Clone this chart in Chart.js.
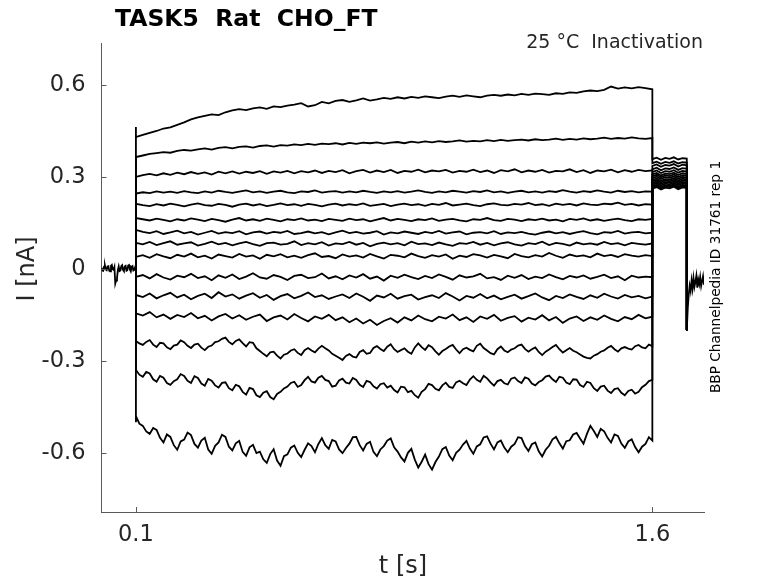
<!DOCTYPE html>
<html lang="en">
<head>
  <meta charset="UTF-8">
  <title>TASK5 Rat CHO_FT</title>
  <script src="https://cdn.jsdelivr.net/npm/chart.js"></script>
  <style>
    html, body { margin: 0; padding: 0; background: #fff; }
    .wrap { width: 778px; height: 583px; position: relative; }
  </style>
</head>
<body>
  <div class="wrap"><canvas id="traceChart"></canvas></div>

  <script>
    // currents in pA
    const holdCurrent = [4, -5, -6, 7, 11, -2, -4, 8, 9, -6, -8, 10, 13, -1, -3, 6, -48, -38, -30, -4, 8, -7, -5, 9, 12, -3, -7, 8, 10, -6, -4, 11, 13, -2, -8, 7, 9, -5, -3, 5, 0];

    // peak of the capacitive jump at 0.1 s, one per sweep
    const onsetPeaks = [463, 365, 300, 246, 212, 166, 127, 85, 39, -26, -85, -145, -235, -330, -500];

    // 0.1 s .. 1.6 s
    const sweep1 = [430, 437, 444, 450, 458, 462, 470, 478, 488, 494, 499, 504, 502, 511, 517, 521, 518, 524, 527, 522, 530, 528, 533, 536, 541, 530, 534, 545, 540, 548, 551, 545, 550, 556, 549, 553, 558, 555, 560, 556, 561, 558, 563, 560, 557, 562, 565, 561, 566, 563, 560, 565, 568, 565, 569, 566, 571, 568, 572, 570, 568, 573, 571, 576, 574, 579, 582, 580, 584, 595, 588, 592, 589, 593, 590, 586];
    const sweep2 = [365, 370, 375, 378, 381, 379, 385, 388, 386, 390, 393, 389, 395, 397, 393, 398, 400, 396, 401, 403, 399, 404, 402, 406, 404, 408, 405, 409, 407, 410, 406, 411, 408, 412, 410, 413, 409, 412, 414, 410, 415, 412, 416, 413, 417, 414, 416, 419, 415, 418, 416, 420, 417, 421, 418, 420, 422, 419, 423, 420, 422, 425, 421, 424, 422, 426, 423, 425, 428, 424, 427, 425, 429, 426, 424, 427];
    const sweep3 = [300, 306, 310, 305, 312, 307, 314, 309, 316, 310, 315, 308, 317, 312, 318, 311, 317, 313, 319, 310, 318, 314, 320, 312, 319, 315, 321, 313, 320, 316, 322, 312, 319, 323, 314, 321, 316, 323, 313, 320, 317, 324, 315, 321, 318, 323, 314, 320, 317, 324, 316, 321, 313, 322, 318, 325, 315, 321, 317, 323, 314, 320, 318, 325, 316, 322, 313, 321, 318, 324, 315, 322, 317, 323, 319, 321];
    const sweep4 = [246, 250, 247, 253, 249, 252, 248, 254, 250, 247, 253, 249, 255, 251, 248, 252, 256, 250, 253, 248, 252, 255, 250, 247, 253, 251, 256, 249, 252, 254, 249, 253, 250, 255, 251, 248, 253, 250, 254, 249, 252, 256, 251, 248, 253, 250, 255, 252, 249, 254, 251, 256, 250, 253, 248, 252, 255, 250, 253, 249, 254, 251, 257, 252, 249, 254, 251, 256, 252, 249, 255, 251, 254, 250, 253, 252];
    const sweep5 = [212, 208, 205, 211, 207, 213, 209, 204, 210, 214, 208, 206, 212, 209, 203, 210, 213, 207, 211, 205, 209, 214, 208, 211, 206, 212, 209, 204, 210, 213, 207, 211, 208, 214, 206, 209, 212, 205, 210, 213, 208, 211, 206, 212, 209, 215, 207, 210, 213, 208, 205, 211, 214, 209, 207, 212, 210, 215, 208, 211, 206, 213, 209, 212, 207, 214, 210, 208, 213, 211, 216, 209, 212, 207, 211, 210];
    const sweep6 = [166, 162, 158, 164, 160, 155, 162, 158, 165, 161, 156, 163, 159, 154, 161, 166, 158, 162, 157, 164, 160, 155, 162, 159, 165, 158, 161, 156, 163, 160, 157, 164, 159, 162, 155, 161, 166, 158, 163, 160, 156, 162, 159, 165, 157, 161, 163, 158, 155, 162, 160, 166, 159, 157, 163, 161, 156, 162, 159, 164, 158, 161, 155, 163, 160, 165, 158, 162, 157, 161, 164, 159, 156, 162, 160, 163];
    const sweep7 = [127, 121, 117, 123, 114, 119, 125, 116, 121, 112, 118, 124, 115, 120, 117, 123, 113, 119, 122, 115, 121, 118, 124, 114, 117, 122, 116, 120, 113, 119, 125, 117, 121, 115, 118, 123, 112, 119, 116, 122, 118, 114, 121, 117, 124, 115, 119, 122, 113, 118, 120, 116, 123, 114, 119, 117, 121, 115, 112, 118, 122, 116, 120, 114, 119, 123, 117, 113, 120, 118, 124, 115, 119, 121, 116, 118];
    const sweep8 = [85, 80, 88, 78, 84, 90, 79, 83, 87, 76, 82, 89, 80, 85, 77, 83, 88, 81, 75, 84, 86, 79, 82, 90, 78, 84, 80, 87, 76, 83, 81, 88, 79, 85, 74, 82, 86, 80, 84, 77, 89, 81, 83, 78, 86, 80, 75, 84, 82, 88, 79, 85, 77, 83, 87, 80, 76, 84, 81, 89, 78, 85, 82, 76, 86, 80, 83, 79, 88, 81, 84, 77, 85, 82, 79, 83];
    const sweep9 = [39, 45, 36, 48, 41, 35, 46, 40, 50, 38, 43, 34, 47, 42, 37, 49, 40, 44, 33, 46, 41, 48, 38, 43, 36, 45, 51, 39, 42, 35, 47, 40, 44, 37, 49, 41, 34, 46, 43, 38, 50, 42, 36, 45, 40, 47, 33, 43, 39, 48, 44, 37, 46, 41, 35, 49, 42, 38, 45, 40, 52, 43, 36, 47, 41, 44, 38, 50, 42, 46, 39, 48, 43, 40, 45, 42];
    const sweep10 = [-26, -20, -31, -17, -28, -35, -22, -27, -16, -30, -24, -37, -21, -29, -18, -33, -25, -14, -28, -32, -20, -26, -36, -23, -19, -30, -27, -15, -31, -24, -34, -21, -28, -17, -32, -25, -38, -22, -29, -19, -27, -33, -23, -30, -18, -26, -35, -21, -28, -24, -16, -31, -27, -36, -22, -29, -20, -33, -25, -30, -18, -27, -34, -23, -28, -21, -32, -26, -19, -30, -24, -37, -22, -28, -25, -27];
    const sweep11 = [-85, -92, -80, -96, -86, -78, -93, -84, -99, -88, -81, -95, -76, -90, -83, -97, -87, -79, -94, -85, -101, -89, -82, -96, -88, -77, -92, -86, -98, -90, -83, -95, -80, -91, -104, -87, -93, -81, -97, -89, -84, -100, -92, -86, -95, -79, -90, -103, -88, -94, -82, -96, -87, -99, -91, -84, -97, -89, -80, -93, -102, -88, -95, -83, -91, -98, -86, -94, -81, -90, -97, -85, -93, -88, -96, -90];
    const sweep12 = [-145, -152, -141, -158, -149, -163, -150, -157, -144, -161, -153, -168, -155, -147, -162, -151, -166, -156, -149, -170, -158, -152, -165, -147, -160, -171, -155, -163, -150, -167, -158, -174, -162, -178, -166, -183, -170, -161, -175, -158, -168, -152, -164, -171, -156, -162, -149, -167, -158, -173, -155, -163, -150, -169, -160, -154, -172, -159, -165, -151, -168, -157, -176, -162, -155, -170, -158, -166, -152, -163, -171, -157, -164, -150, -161, -156];
    const sweep13 = [-235, -243, -248, -238, -232, -247, -255, -241, -243, -256, -262, -250, -247, -233, -239, -251, -258, -247, -244, -257, -265, -254, -250, -239, -236, -228, -224, -238, -246, -235, -230, -242, -253, -239, -241, -259, -268, -277, -285, -272, -270, -283, -292, -280, -276, -266, -262, -274, -281, -265, -258, -266, -272, -260, -251, -259, -266, -277, -283, -290, -297, -284, -278, -286, -289, -271, -265, -277, -274, -258, -252, -261, -268, -254, -246, -262, -271, -265, -259, -270, -277, -256, -243, -255, -264, -249, -255, -269, -280, -268, -261, -253, -248, -263, -275, -262, -257, -264, -269, -251, -244, -258, -266, -275, -279, -262, -253, -266, -272, -263, -259, -250, -247, -261, -270, -262, -256, -271, -281, -270, -263, -255, -248, -262, -273, -265, -258, -267, -272, -279, -286, -290, -292, -283, -278, -270, -266, -257, -251, -262, -270, -259, -255, -260, -263, -252, -248, -256, -259, -247, -252];
    const sweep14 = [-330, -345, -352, -336, -341, -360, -368, -349, -355, -372, -378, -366, -360, -343, -349, -365, -372, -350, -356, -374, -381, -359, -365, -380, -387, -372, -370, -389, -396, -378, -383, -401, -410, -388, -392, -412, -418, -404, -399, -418, -425, -408, -401, -390, -384, -372, -368, -385, -379, -363, -352, -367, -371, -355, -349, -362, -366, -384, -381, -364, -358, -371, -374, -356, -362, -378, -385, -365, -369, -383, -390, -376, -373, -387, -381, -395, -403, -384, -386, -402, -398, -412, -420, -401, -392, -375, -379, -391, -396, -380, -371, -385, -388, -370, -365, -373, -379, -361, -350, -362, -368, -349, -357, -370, -381, -366, -362, -373, -377, -358, -354, -366, -372, -354, -358, -374, -380, -369, -363, -351, -348, -360, -369, -352, -355, -371, -376, -360, -361, -379, -385, -368, -372, -389, -398, -384, -381, -397, -405, -392, -389, -404, -412, -398, -394, -407, -401, -386, -378, -366, -362];
    const sweep15 = [-480, -505, -512, -530, -538, -519, -525, -551, -566, -540, -548, -575, -590, -563, -557, -534, -542, -571, -583, -560, -551, -589, -603, -577, -566, -541, -548, -580, -592, -569, -561, -597, -610, -582, -574, -601, -596, -621, -633, -604, -588, -625, -642, -611, -605, -583, -576, -600, -614, -590, -569, -578, -598, -571, -552, -575, -587, -558, -563, -589, -601, -584, -570, -549, -548, -575, -592, -571, -564, -597, -611, -589, -578, -560, -553, -582, -596, -615, -628, -600, -587, -622, -648, -629, -606, -637, -655, -630, -612, -588, -581, -609, -624, -600, -590, -573, -561, -586, -603, -579, -572, -550, -546, -570, -589, -566, -560, -583, -598, -580, -571, -549, -552, -578, -594, -572, -566, -595, -612, -590, -577, -556, -548, -569, -586, -562, -559, -540, -535, -553, -570, -538, -512, -529, -548, -522, -530, -551, -566, -540, -545, -570, -584, -563, -556, -581, -598, -580, -571, -549, -560];

    // 1.6 s .. 1.7 s
    const tail1 = [358, 363, 356, 362, 359, 364, 357, 361, 360];
    const tail2 = [345, 350, 343, 349, 346, 351, 344, 348, 347];
    const tail3 = [336, 341, 333, 339, 337, 342, 334, 340, 338];
    const tail4 = [325, 330, 322, 328, 326, 331, 323, 329, 327];
    const tail5 = [316, 321, 313, 319, 317, 322, 314, 320, 318];
    const tail6 = [308, 313, 305, 311, 309, 314, 306, 312, 310];
    const tail7 = [302, 307, 299, 305, 303, 308, 300, 306, 304];
    const tail8 = [296, 301, 293, 299, 297, 302, 294, 300, 298];
    const tail9 = [290, 295, 287, 293, 291, 296, 288, 294, 292];
    const tail10 = [285, 290, 282, 288, 286, 291, 283, 289, 287];
    const tail11 = [280, 285, 277, 283, 281, 286, 278, 284, 282];
    const tail12 = [275, 280, 272, 278, 276, 281, 273, 279, 277];
    const tail13 = [270, 275, 267, 273, 271, 276, 268, 274, 272];
    const tail14 = [266, 271, 263, 269, 267, 272, 264, 270, 268];
    const tail15 = [262, 267, 259, 265, 263, 268, 260, 266, 264];

    // 1.7 s .. 1.75 s
    const endCurrent = [-200, -130, -85, -55, -72, -38, -64, -30, -58, -42, -22, -61, -35, -50, -27, -56, -40, -24, -52];

    const yTickVals = [-0.6, -0.3, 0, 0.3, 0.6];
    const xTickVals = [0.1, 1.6];

    const sweeps = [sweep1, sweep2, sweep3, sweep4, sweep5, sweep6, sweep7, sweep8,
                    sweep9, sweep10, sweep11, sweep12, sweep13, sweep14, sweep15];
    const tails = [tail1, tail2, tail3, tail4, tail5, tail6, tail7, tail8,
                   tail9, tail10, tail11, tail12, tail13, tail14, tail15];

    function spread(values, t0, t1) {
      const n = values.length;
      return values.map((v, i) => ({ x: t0 + (t1 - t0) * i / (n - 1), y: v / 1000 }));
    }

    const lineStyle = { borderColor: '#000', borderWidth: 1.8, pointRadius: 0, fill: false, tension: 0 };

    const datasets = [{ ...lineStyle, data: spread(holdCurrent, 0, 0.1) }];
    sweeps.forEach((sw, k) => {
      datasets.push({
        ...lineStyle,
        data: [{ x: 0.1, y: 0 }, { x: 0.1, y: onsetPeaks[k] / 1000 }]
          .concat(spread(sw, 0.1, 1.6))
          .concat(spread(tails[k], 1.6, 1.7))
          .concat([{ x: 1.7, y: endCurrent[0] / 1000 }])
      });
    });
    datasets.push({ ...lineStyle, data: spread(endCurrent, 1.7, 1.75) });

    const axisGrey = '#5a5a5a';
    const textGrey = '#262626';

    const decor = {
      id: 'decor',
      afterDraw(chart) {
        const ctx = chart.ctx;
        const xs = chart.scales.x, ys = chart.scales.y;
        const area = chart.chartArea;
        ctx.save();
        // inward ticks
        ctx.strokeStyle = axisGrey;
        ctx.lineWidth = 1;
        ctx.beginPath();
        yTickVals.forEach(v => {
          const py = Math.round(ys.getPixelForValue(v)) + 0.5;
          ctx.moveTo(area.left, py);
          ctx.lineTo(area.left + 5, py);
        });
        xTickVals.forEach(v => {
          const px = Math.round(xs.getPixelForValue(v)) + 0.5;
          ctx.moveTo(px, area.bottom);
          ctx.lineTo(px, area.bottom - 5);
        });
        ctx.stroke();

        ctx.fillStyle = '#000';
        ctx.font = 'bold 23.5px "DejaVu Sans"';
        ctx.textAlign = 'left';
        ctx.textBaseline = 'alphabetic';
        ctx.fillText('TASK5  Rat  CHO_FT', 115, 26);

        ctx.fillStyle = textGrey;
        ctx.font = '19px "DejaVu Sans"';
        ctx.textAlign = 'right';
        ctx.fillText('25 °C  Inactivation', 703, 48);

        ctx.font = '24px "DejaVu Sans"';
        ctx.textAlign = 'center';
        ctx.textBaseline = 'middle';
        ctx.fillText('t [s]', 403, 567);

        ctx.save();
        ctx.translate(28, 269);
        ctx.rotate(-Math.PI / 2);
        ctx.fillText('I [nA]', 0, 0);
        ctx.restore();

        ctx.fillStyle = '#000';
        ctx.font = '13.7px "DejaVu Sans"';
        ctx.save();
        ctx.translate(716, 277);
        ctx.rotate(-Math.PI / 2);
        ctx.fillText('BBP Channelpedia ID 31761 rep 1', 0, 0);
        ctx.restore();

        ctx.restore();
      }
    };

    new Chart(document.getElementById('traceChart'), {
      type: 'line',
      data: { datasets },
      options: {
        responsive: true,
        maintainAspectRatio: false,
        animation: false,
        events: [],
        layout: { padding: { left: 0, right: 74, top: 43, bottom: 0 } },
        plugins: { legend: { display: false }, tooltip: { enabled: false }, title: { display: false } },
        scales: {
          x: {
            type: 'linear',
            min: 0,
            max: 1.75,
            afterBuildTicks: scale => { scale.ticks = xTickVals.map(v => ({ value: v })); },
            afterFit: scale => { scale.height = 71; },
            grid: { display: true, drawOnChartArea: false, drawTicks: false },
            border: { display: true, color: axisGrey, width: 1 },
            ticks: {
              padding: 10,
              maxRotation: 0,
              color: textGrey,
              font: { family: 'DejaVu Sans', size: 22.5 },
              callback: v => v.toFixed(1)
            }
          },
          y: {
            type: 'linear',
            min: -0.793,
            max: 0.737,
            afterBuildTicks: scale => { scale.ticks = yTickVals.map(v => ({ value: v })); },
            afterFit: scale => { scale.width = 101.5; },
            grid: { display: true, drawOnChartArea: false, drawTicks: false },
            border: { display: true, color: axisGrey, width: 1 },
            ticks: {
              padding: 16,
              color: textGrey,
              font: { family: 'DejaVu Sans', size: 22.5 },
              callback: v => (v === 0 ? '0' : v.toFixed(1))
            }
          }
        }
      },
      plugins: [decor]
    });
  </script>
</body>
</html>
